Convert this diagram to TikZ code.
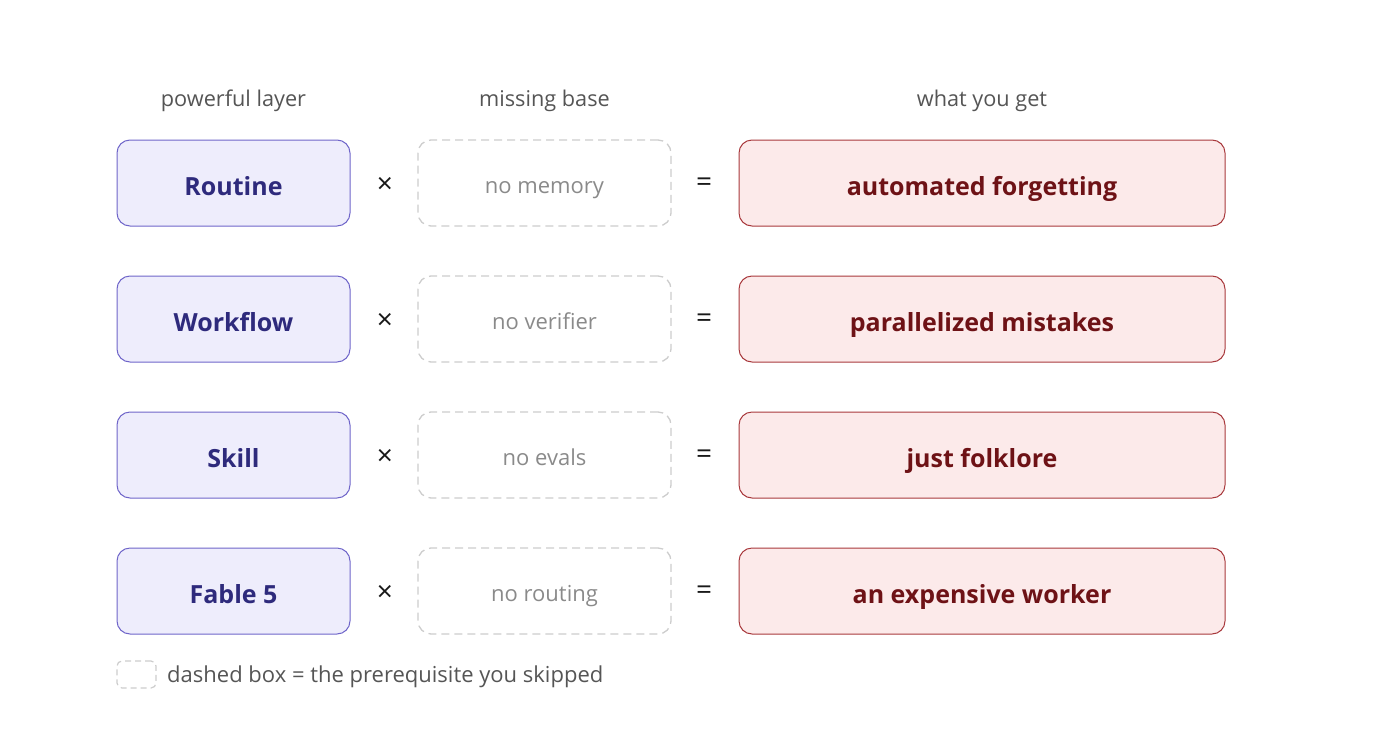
\documentclass[tikz,border=0pt]{standalone}
\usepackage{fontspec}
\setmainfont{Open Sans}
\definecolor{layfill}{HTML}{EEEDFC}
\definecolor{laydraw}{HTML}{6F65C9}
\definecolor{laytext}{HTML}{2E2A7C}
\definecolor{resfill}{HTML}{FCEAEA}
\definecolor{resdraw}{HTML}{A8383C}
\definecolor{restext}{HTML}{6E1216}
\definecolor{dashdraw}{HTML}{CDCDCD}
\definecolor{dashtext}{HTML}{8A8A8A}
\definecolor{headtext}{HTML}{555555}
\tikzset{
  layerbox/.style={draw=laydraw, fill=layfill, line width=1pt, rounded corners=13pt,
    minimum width=233pt, minimum height=86pt, text=laytext, font=\fontsize{25}{30}\selectfont\bfseries,
    inner sep=0pt, text height=24pt, text depth=0pt},
  basebox/.style={draw=dashdraw, line width=1.3pt, dash pattern=on 8pt off 5pt, rounded corners=13pt,
    minimum width=253pt, minimum height=86pt, text=dashtext, font=\fontsize{22}{26}\selectfont,
    inner sep=0pt, text height=20pt, text depth=0pt},
  resultbox/.style={draw=resdraw, fill=resfill, line width=1pt, rounded corners=13pt,
    minimum width=486pt, minimum height=86pt, text=restext, font=\fontsize{25}{30}\selectfont\bfseries,
    inner sep=0pt, text height=24pt, text depth=0pt},
  optext/.style={text=black!90, font=\fontsize{28}{32}\selectfont, inner sep=0pt},
  headtxt/.style={text=headtext, font=\fontsize{21.7}{26}\selectfont, inner sep=0pt,
    text height=16pt, text depth=0pt},
}
\begin{document}
\begin{tikzpicture}[x=1pt,y=-1pt]
\useasboundingbox (0,0) rectangle (1400,739);
\node[headtxt] (h1) at (233.5,98) {powerful layer};
\node[headtxt] (h2) at (544.5,98) {missing base};
\node[headtxt] (h3) at (982,98) {what you get};
\foreach \i/\a/\b/\c in {1/Routine/no memory/automated forgetting,
                         2/Workflow/no verifier/parallelized mistakes,
                         3/Skill/no evals/just folklore,
                         4/Fable 5/no routing/an expensive worker}{
  \pgfmathsetmacro{\yy}{183+136*(\i-1)}
  \node[layerbox] (l\i) at (233.5,\yy) {\a};
  \node[optext] (x\i) at (385,\yy+2) {×};
  \node[basebox] (b\i) at (544.5,\yy) {\b};
  \node[optext] (e\i) at (704,\yy+2) {=};
  \node[resultbox] (r\i) at (982,\yy) {\c};
}
\node[draw=dashdraw, line width=1.2pt, dash pattern=on 6pt off 4pt, rounded corners=5pt,
  minimum width=39pt, minimum height=27pt, inner sep=0pt] (lg) at (136.5,674.5) {};
\node[headtxt, anchor=west, font=\fontsize{22}{26}\selectfont] (lgt) at (167,674.5) {dashed box = the prerequisite you skipped};
\end{tikzpicture}
\end{document}
